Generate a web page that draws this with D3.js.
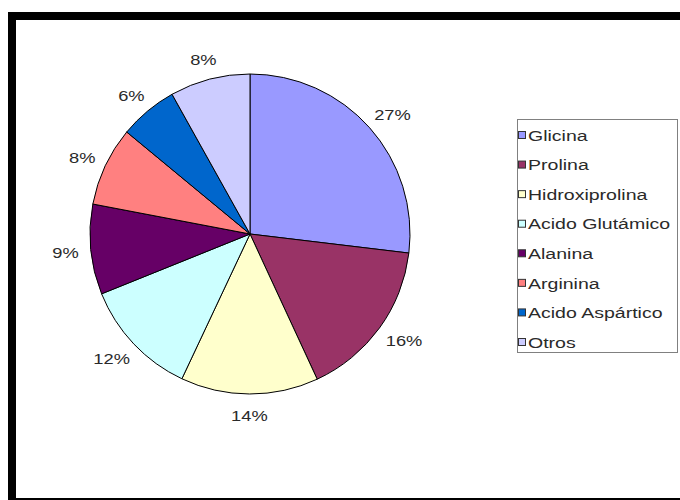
<!DOCTYPE html>
<html>
<head>
<meta charset="utf-8">
<script src="https://cdn.jsdelivr.net/npm/d3@7"></script>
<style>
  html, body { margin: 0; padding: 0; background: #fff; }
  svg { display: block; }
  text { font-family: "Liberation Sans", Arial, sans-serif; fill: #2a2a2a; }
</style>
</head>
<body>
<svg id="chart" width="680" height="500"></svg>
<script>
const categories = ["Glicina", "Prolina", "Hidroxiprolina", "Acido Glutámico", "Alanina", "Arginina", "Acido Aspártico", "Otros"];
const values = [26.9, 16.2, 13.9, 11.9, 9.1, 8.0, 5.9, 8.1];
const colors = ["#9999FF", "#993366", "#FFFFCC", "#CCFFFF", "#660066", "#FF8080", "#0066CC", "#CCCCFF"];

const svg = d3.select("#chart");
const sx = 1.18;   // horizontal text stretch of the pie labels
const sxL = 1.26;  // horizontal text stretch of the legend

// outer frame
svg.append("rect").attr("x", 12).attr("y", 16).attr("width", 720).attr("height", 486)
  .attr("fill", "none").attr("stroke", "#000").attr("stroke-width", 8);

const cx = 250, cy = 234, R = 160;
const data = categories.map((c, i) => ({ name: c, value: values[i], color: colors[i] }));
const pie = d3.pie().value(d => d.value).sort(null);
const arcs = pie(data);
const arc = d3.arc().innerRadius(0).outerRadius(R);

const g = svg.append("g").attr("transform", `translate(${cx},${cy})`);
g.selectAll("path").data(arcs).join("path")
  .attr("d", arc)
  .attr("fill", d => d.data.color)
  .attr("stroke", "#000")
  .attr("stroke-width", 1)
  .attr("stroke-linejoin", "round");

const fs = 15.5;
const total = d3.sum(values);
const lbl = g.selectAll("text.lbl").data(arcs).join("text")
  .attr("class", "lbl")
  .style("font-size", fs + "px")
  .attr("text-anchor", "middle")
  .attr("dominant-baseline", "central")
  .text(d => Math.round(d.data.value / total * 100) + "%");

lbl.attr("transform", function(d) {
  const a = (d.startAngle + d.endAngle) / 2;
  const dx = Math.sin(a), dy = -Math.cos(a);
  const w = this.getBBox().width * sx, h = fs * 1.1;
  const r0 = 172;
  const x = dx * r0 + dx * w / 2;
  const y = dy * r0 + dy * h / 2 + 1;
  return `translate(${x},${y}) scale(${sx},1)`;
});

// legend
const lx = 517, ly = 119, lw = 160, lh = 233;
svg.append("rect").attr("x", lx + 0.5).attr("y", ly + 0.5).attr("width", lw).attr("height", lh)
  .attr("fill", "#fff").attr("stroke", "#808080").attr("stroke-width", 1);

const rowY = d3.scalePoint().domain(categories).range([ly + 16, ly + 223]);
const items = svg.selectAll("g.item").data(data).join("g").attr("class", "item")
  .attr("transform", d => `translate(${lx + 1},${rowY(d.name)})`);
items.append("rect").attr("x", 0.5).attr("y", -3.5).attr("width", 7).attr("height", 7)
  .attr("fill", d => d.color).attr("stroke", "#333").attr("stroke-width", 1);
items.append("text").attr("x", 0).attr("y", 0)
  .attr("transform", `translate(10,0.5) scale(${sxL},1)`)
  .attr("dominant-baseline", "central")
  .style("font-size", fs + "px")
  .text(d => d.name);
</script>
</body>
</html>
